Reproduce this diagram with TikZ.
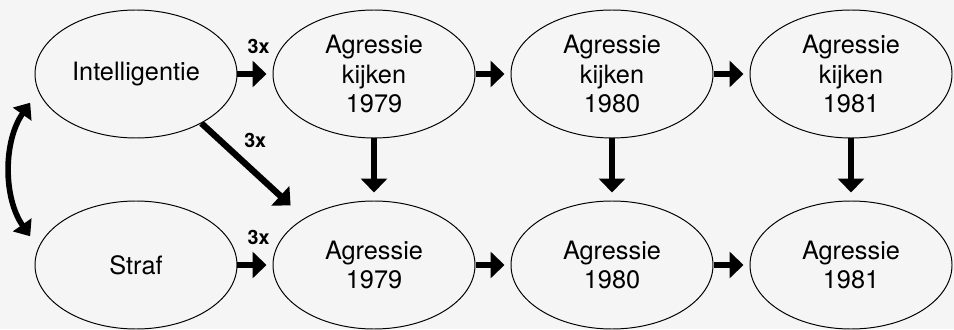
\documentclass[tikz,border=0pt]{standalone}
\usepackage{fontspec}
\setmainfont{TeX Gyre Heros}
\usetikzlibrary{shapes.geometric,arrows.meta}

\begin{document}
\begin{tikzpicture}
          [font=\fontsize{18}{21}\selectfont,
          oval/.style={shape=ellipse,draw=black,line width=0.7pt,minimum width=5.05cm,minimum height=3.2cm,inner sep=0pt,align=center},
          arc/.style={-{Triangle[length=0.35cm,width=0.65cm]},line width=4.5pt,shorten >=0.15cm},
          twoway/.style={{Triangle[length=0.35cm,width=0.55cm]}-{Triangle[length=0.35cm,width=0.55cm]},line width=4pt,shorten <=0.35cm,shorten >=0.35cm},
          lbl/.style={font=\fontsize{14}{16}\selectfont\bfseries}]

            \fill [black!4] (0,0) rectangle (23.85,8.225);
            \useasboundingbox (0,0) rectangle (23.85,8.225);

            \node (1) [oval] at (3.4,6.375) {Intelligentie};
            \node (2) [oval] at (9.35,6.375) {Agressie\\kijken\\1979};
            \node (3) [oval] at (15.3,6.375) {Agressie\\kijken\\1980};
            \node (4) [oval] at (21.275,6.375) {Agressie\\kijken\\1981};
            \node (5) [oval] at (3.4,1.6) {Straf};
            \node (6) [oval] at (9.35,1.6) {Agressie\\1979};
            \node (7) [oval] at (15.3,1.6) {Agressie\\1980};
            \node (8) [oval] at (21.275,1.6) {Agressie\\1981};

            \draw [arc] (1) to node [lbl,pos=0.6,above=0.3cm] {3x} (2);
            \draw [arc] (2) to (3);
            \draw [arc] (3) to (4);
            \draw [arc] (5) to node [lbl,pos=0.6,above=0.3cm] {3x} (6);
            \draw [arc] (6) to (7);
            \draw [arc] (7) to (8);
            \draw [arc,shorten >=0.47cm] (1.-37) to node [lbl,pos=0.34,above right] {3x} (6.146);
            \draw [arc,shorten >=0.2cm] (2) to (6);
            \draw [arc,shorten >=0.2cm] (3) to (7);
            \draw [arc,shorten >=0.2cm] (4) to (8);
            \draw [twoway] (1.190) to [bend right=35] (5.170);

        \end{tikzpicture}
\end{document}
